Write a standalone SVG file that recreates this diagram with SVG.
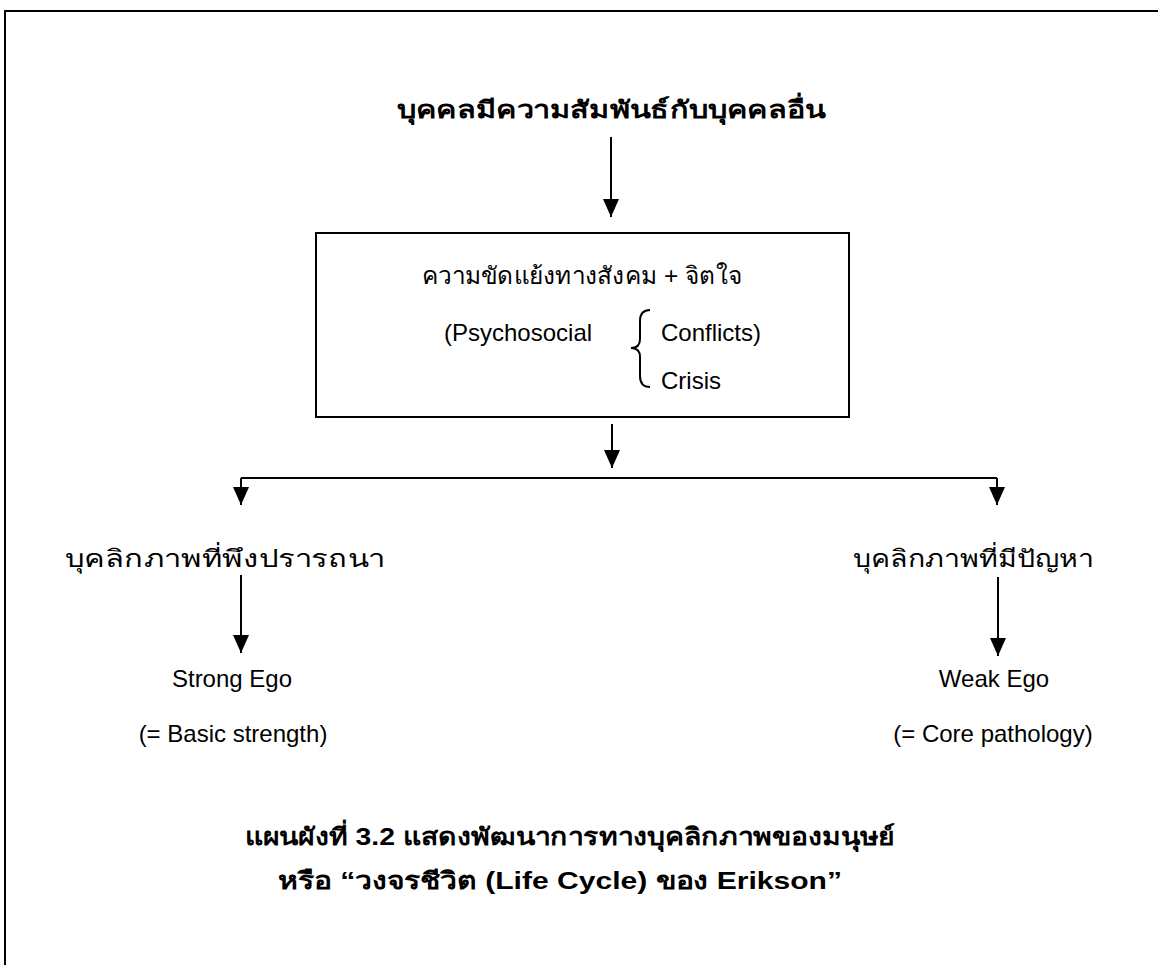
<svg xmlns="http://www.w3.org/2000/svg" width="1159" height="965" viewBox="0 0 1159 965">
<style>
.t{font-family:"Liberation Sans","Noto Sans","DejaVu Sans",sans-serif;font-size:24px;fill:#000}
.b{font-weight:bold}
.c{text-anchor:middle}
.ln{stroke:#000;stroke-width:2;fill:none}
</style>
<defs>
<marker id="ah" markerUnits="userSpaceOnUse" markerWidth="16" markerHeight="18" refX="8" refY="18" orient="0" viewBox="0 0 16 18">
<path d="M0,0 L16,0 L8,18 Z" fill="#000"/>
</marker>
</defs>
<rect width="1159" height="965" fill="#fff"/>
<g id="frame">
<path class="ln" d="M4,11 H1158 M5,11 V965"/>
</g>
<g id="n-title">
<text class="t b c" x="611" y="118" font-size="33" textLength="428" lengthAdjust="spacingAndGlyphs">บุคคลมีความสัมพันธ์กับบุคคลอื่น</text>
</g>
<g id="n-conflict">
<rect class="ln" x="316" y="233" width="533" height="184"/>
<text class="t c" x="582" y="284" textLength="320" lengthAdjust="spacingAndGlyphs">ความขัดแย้งทางสังคม + จิตใจ</text>
<text class="t" x="444" y="341">(Psychosocial</text>
<path class="ln" stroke-width="1.5" d="M650,310 Q640,310 640,321 V339 Q640,348 631,348 Q640,348 640,357 V376 Q640,387 650,387"/>
<text class="t" x="661" y="341">Conflicts)</text>
<text class="t" x="661" y="389">Crisis</text>
</g>
<g id="n-desired">
<text class="t c" x="225" y="567" font-size="30" textLength="320" lengthAdjust="spacingAndGlyphs">บุคลิกภาพที่พึงปรารถนา</text>
</g>
<g id="n-problem">
<text class="t c" x="973" y="567" font-size="28" textLength="240" lengthAdjust="spacingAndGlyphs">บุคลิกภาพที่มีปัญหา</text>
</g>
<g id="n-strong">
<text class="t c" x="232" y="687">Strong Ego</text>
<text class="t c" x="233" y="742">(= Basic strength)</text>
</g>
<g id="n-weak">
<text class="t c" x="994" y="687">Weak Ego</text>
<text class="t c" x="993" y="742">(= Core pathology)</text>
</g>
<g id="caption">
<text class="t b c" x="570" y="845" font-size="27" textLength="650" lengthAdjust="spacingAndGlyphs">แผนผังที่ 3.2 แสดงพัฒนาการทางบุคลิกภาพของมนุษย์</text>
<text class="t b c" x="560" y="889" font-size="27" textLength="564" lengthAdjust="spacingAndGlyphs">หรือ “วงจรชีวิต (Life Cycle) ของ Erikson”</text>
</g>
<g id="connectors">
<path class="ln" d="M611,137 V217" marker-end="url(#ah)"/>
<path class="ln" d="M612,424 V468" marker-end="url(#ah)"/>
<path class="ln" d="M241,478 H997"/>
<path class="ln" d="M241,478 V505" marker-end="url(#ah)"/>
<path class="ln" d="M997,478 V505" marker-end="url(#ah)"/>
<path class="ln" d="M241,575 V653" marker-end="url(#ah)"/>
<path class="ln" d="M998,577 V656" marker-end="url(#ah)"/>
</g>
</svg>
